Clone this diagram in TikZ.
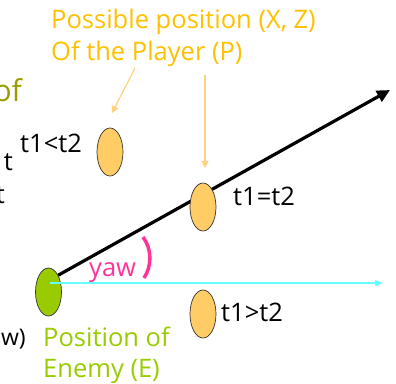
\documentclass[tikz,border=0pt]{standalone}
\usepackage{fontspec}
\setmainfont{Open Sans}
\usetikzlibrary{shapes.geometric,arrows.meta,backgrounds}
\definecolor{gold}{HTML}{FFC000}
\definecolor{olivetxt}{HTML}{9C9C00}
\definecolor{lime}{HTML}{99CC00}
\definecolor{peach}{HTML}{FFCC66}
\definecolor{peacharrow}{HTML}{FFD27F}
\definecolor{pinkyaw}{HTML}{FF3399}
\definecolor{cyanline}{HTML}{66FFFF}
\tikzset{
  posblob/.style={ellipse,draw=black!80,line width=0.7pt,fill=peach,minimum width=26pt,minimum height=48pt,inner sep=0pt},
  enemyblob/.style={ellipse,draw=black!80,line width=0.7pt,fill=lime,minimum width=26pt,minimum height=48pt,inner sep=0pt},
  txt/.style={inner sep=0pt,font=\fontsize{25.5}{30}\selectfont},
  hint/.style={draw=peacharrow,line width=1.2pt,-{Triangle[width=7pt,length=7pt]}}
}
\begin{document}
\begin{tikzpicture}[x=1pt,y=-1pt]
\useasboundingbox (0,0) rectangle (396,383);
\clip (0,0) rectangle (396,383);
% texts
\node[txt,text=gold,anchor=base west] (p1) at (51,28) {Possible position (X, Z)};
\node[txt,text=gold,anchor=base west] (p2) at (51,60) {Of the Player (P)};
\node[inner sep=0pt,font=\fontsize{30}{36}\selectfont,text=olivetxt,anchor=base east] (of) at (22,101) {of};
\node[txt,anchor=base east] (ta) at (13,170) {t};
\node[txt,anchor=base east] (tb) at (5,203) {t};
\node[txt,font=\fontsize{23}{28}\selectfont,anchor=base east] (w) at (26,345) {w)};
\node[txt,anchor=base west] (l1) at (20,152) {t1<t2};
\node[txt,anchor=base west] (l2) at (233,205) {t1=t2};
\node[txt,anchor=base west] (l3) at (221,321) {t1>t2};
\node[txt,text=pinkyaw,anchor=base west] (yaw) at (89,276) {yaw};
\node[txt,text=lime,anchor=base west] (e1) at (43,346) {Position of};
\node[txt,text=lime,anchor=base west] (e2) at (43,377) {Enemy (E)};
% shapes
\node[posblob] (P1) at (110,152) {};
\node[posblob] (P2) at (203,207) {};
\node[posblob] (P3) at (203,314) {};
\node[enemyblob] (E) at (48.5,292) {};
% free ends
\coordinate (tip) at (390,90);
\coordinate (ys) at (50,283);
\coordinate (ye) at (383,283);
\coordinate (h1s) at (135,68);
\coordinate (h1e) at (112,113);
\coordinate (h2s) at (205,75);
\coordinate (h2e) at (205,168);
\coordinate (a1) at (143,237);
\coordinate (a2) at (144,278);
\begin{scope}[on background layer]
\draw[line width=3.2pt,-{Triangle[width=12pt,length=13pt]}] (E.60) -- (tip);
\end{scope}
\draw[cyanline,line width=1.2pt,-{Triangle[width=6pt,length=8pt]}] (ys) -- (ye);
\draw[hint] (h1s) -- (h1e);
\draw[hint] (h2s) -- (h2e);
\draw[pinkyaw,line width=3.5pt] (a1) .. controls (152,249) and (152,266) .. (a2);
\end{tikzpicture}
\end{document}
